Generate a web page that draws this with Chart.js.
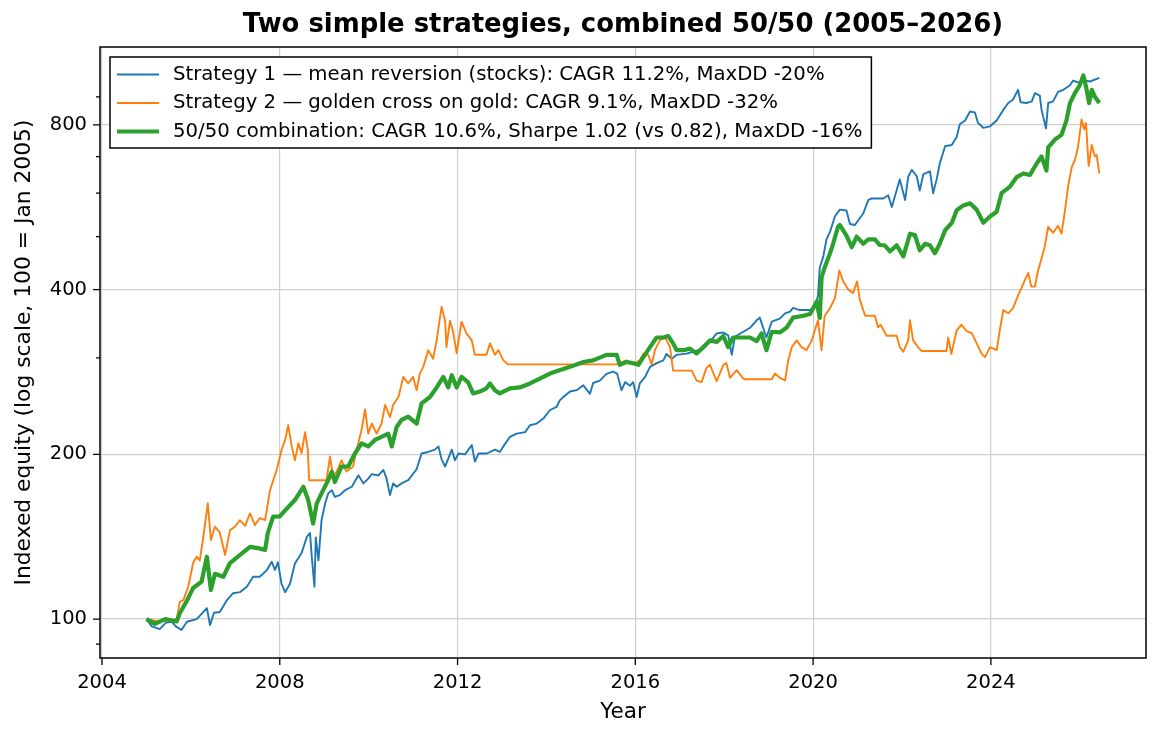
<!DOCTYPE html>
<html>
<head>
<meta charset="utf-8">
<title>Two simple strategies, combined 50/50 (2005–2026)</title>
<script src="https://cdn.jsdelivr.net/npm/chart.js@4.4.1/dist/chart.umd.min.js"></script>
<style>
  html, body { margin: 0; padding: 0; background: #fff; }
  #wrap { width: 1161px; height: 737px; }
</style>
</head>
<body>
<div id="wrap"><canvas id="equity-chart" width="1161" height="737"></canvas></div>
<script>
// ============================================
//  Two strategies + 50/50 blend — equity curves
// ============================================

const TITLE = "Two simple strategies, combined 50/50 (2005–2026)";
const s1Label = "Strategy 1 — mean reversion (stocks): CAGR 11.2%, MaxDD -20%";
const s2Label = "Strategy 2 — golden cross on gold: CAGR 9.1%, MaxDD -32%";
const comboLabel = "50/50 combination: CAGR 10.6%, Sharpe 1.02 (vs 0.82), MaxDD -16%";

const xTicks      = [2004, 2008, 2012, 2016, 2020, 2024];
const yTicks      = [100, 200, 400, 800];
const yMinorTicks = [90, 300, 500, 600, 700, 900];

// Strategy 1 (stocks, mean reversion)
const s1Years = [
  2005.00, 2005.12, 2005.30, 2005.44, 2005.57, 2005.66, 2005.79, 2005.91, 2006.13, 2006.36,
  2006.43, 2006.52, 2006.65, 2006.81, 2006.95, 2007.10, 2007.26, 2007.40, 2007.55, 2007.71,
  2007.82, 2007.89, 2007.96, 2008.04, 2008.12, 2008.23, 2008.34, 2008.49, 2008.61, 2008.68,
  2008.72, 2008.78, 2008.81, 2008.87, 2008.94, 2009.02, 2009.09, 2009.17, 2009.24, 2009.35,
  2009.47, 2009.62, 2009.77, 2009.88, 2009.99, 2010.07, 2010.22, 2010.33, 2010.40, 2010.48,
  2010.55, 2010.63, 2010.74, 2010.89, 2010.97, 2011.08, 2011.19, 2011.34, 2011.49, 2011.57,
  2011.64, 2011.72, 2011.87, 2011.94, 2012.02, 2012.17, 2012.32, 2012.39, 2012.47, 2012.66,
  2012.84, 2012.95, 2013.03, 2013.18, 2013.33, 2013.52, 2013.63, 2013.78, 2013.93, 2014.08,
  2014.23, 2014.30, 2014.38, 2014.53, 2014.68, 2014.83, 2014.98, 2015.05, 2015.20, 2015.35,
  2015.50, 2015.59, 2015.69, 2015.77, 2015.88, 2015.95, 2016.03, 2016.10, 2016.22, 2016.33,
  2016.48, 2016.63, 2016.70, 2016.82, 2016.93, 2017.15, 2017.30, 2017.53, 2017.68, 2017.83,
  2017.98, 2018.09, 2018.17, 2018.24, 2018.43, 2018.58, 2018.73, 2018.80, 2018.88, 2018.95,
  2019.07, 2019.25, 2019.37, 2019.48, 2019.55, 2019.70, 2019.93, 2020.04, 2020.11, 2020.15,
  2020.23, 2020.30, 2020.38, 2020.49, 2020.60, 2020.75, 2020.83, 2020.94, 2021.05, 2021.13,
  2021.24, 2021.32, 2021.58, 2021.69, 2021.77, 2021.88, 2021.95, 2022.07, 2022.14, 2022.22,
  2022.33, 2022.40, 2022.48, 2022.63, 2022.70, 2022.78, 2022.85, 2022.97, 2023.12, 2023.23,
  2023.30, 2023.42, 2023.53, 2023.64, 2023.71, 2023.83, 2023.98, 2024.13, 2024.28, 2024.39,
  2024.50, 2024.61, 2024.67, 2024.80, 2024.92, 2024.99, 2025.10, 2025.14, 2025.24, 2025.29,
  2025.40, 2025.51, 2025.63, 2025.78, 2025.85, 2026.00, 2026.11, 2026.23, 2026.44
];
const s1Values = [
  100, 97, 95.9, 98.5, 98.9, 97, 95.5, 98.9, 100, 104.7,
  97.5, 102.7, 103, 108.3, 111.5, 112, 114.6, 119.5, 119.5, 122.9,
  127.3, 123, 127, 116, 112, 116, 126.4, 132, 141.4, 143.6,
  130, 114.6, 141, 128, 151.6, 162.6, 169.7, 172, 167.3, 168.5,
  172, 174.5, 183.2, 177, 180.6, 184, 183, 187.3, 181, 168.5,
  177, 174.5, 177, 179.4, 183, 188, 200.7, 202, 204, 206.8,
  196, 190, 204, 195, 200.7, 200, 208, 194, 200.7, 200.7,
  204, 202, 206.8, 215.3, 218.2, 219.6, 226, 227.6, 232.5, 241,
  244.3, 251, 254.6, 260.5, 262, 267.4, 258, 270, 272.8, 280.6,
  283.2, 281, 262, 271, 267, 271, 254.6, 269.5, 277, 289,
  293.5, 297, 305, 299, 304, 305.6, 308, 312, 321, 332.7,
  334, 330, 304, 328, 335, 340.6, 351.5, 355.5, 340, 327,
  349.5, 353.9, 362, 364.5, 370.3, 367, 367, 372, 389.6, 439,
  460, 494, 510, 544, 560, 558, 527, 525, 540, 551.6,
  583, 587, 587, 595, 566, 607.6, 636, 583, 643, 662,
  645, 607, 650, 658, 600, 636, 680, 731, 735, 760,
  802, 815, 846, 843, 806, 790, 795, 815, 852, 877,
  890, 927, 880, 877, 883, 914, 905, 852, 788, 877,
  883, 919, 927, 945, 964, 954, 964, 960, 975
];

// Strategy 2 (gold, golden cross) — flat stretches are time out of the market
const s2Years = [
  2005.00, 2005.30, 2005.68, 2005.75, 2005.83, 2005.94, 2006.05, 2006.13, 2006.20, 2006.28,
  2006.38, 2006.45, 2006.54, 2006.65, 2006.77, 2006.88, 2006.99, 2007.10, 2007.22, 2007.33,
  2007.44, 2007.55, 2007.67, 2007.78, 2007.93, 2008.04, 2008.12, 2008.19, 2008.27, 2008.34,
  2008.42, 2008.49, 2008.57, 2008.63, 2008.66, 2009.05, 2009.13, 2009.20, 2009.28, 2009.39,
  2009.50, 2009.65, 2009.73, 2009.84, 2009.92, 2009.99, 2010.07, 2010.18, 2010.29, 2010.37,
  2010.48, 2010.55, 2010.67, 2010.78, 2010.89, 2011.00, 2011.08, 2011.15, 2011.23, 2011.34,
  2011.45, 2011.53, 2011.64, 2011.72, 2011.75, 2011.83, 2011.90, 2011.98, 2012.09, 2012.20,
  2012.32, 2012.39, 2012.65, 2012.73, 2012.84, 2012.92, 2013.03, 2013.14, 2015.58, 2015.80,
  2015.95, 2016.10, 2016.18, 2016.29, 2016.37, 2016.44, 2016.55, 2016.67, 2016.78, 2016.85,
  2017.27, 2017.38, 2017.49, 2017.60, 2017.68, 2017.83, 2017.98, 2018.05, 2018.13, 2018.28,
  2018.43, 2018.47, 2019.07, 2019.14, 2019.25, 2019.37, 2019.44, 2019.52, 2019.63, 2019.74,
  2019.85, 2019.97, 2020.04, 2020.11, 2020.19, 2020.26, 2020.38, 2020.49, 2020.59, 2020.68,
  2020.79, 2020.90, 2020.99, 2021.05, 2021.17, 2021.39, 2021.46, 2021.52, 2021.65, 2021.88,
  2021.95, 2022.03, 2022.14, 2022.18, 2022.25, 2022.36, 2022.44, 2023.00, 2023.04, 2023.11,
  2023.23, 2023.34, 2023.45, 2023.57, 2023.68, 2023.79, 2023.87, 2023.98, 2024.13, 2024.20,
  2024.28, 2024.39, 2024.50, 2024.61, 2024.73, 2024.84, 2024.91, 2024.99, 2025.06, 2025.14,
  2025.21, 2025.29, 2025.40, 2025.51, 2025.59, 2025.67, 2025.74, 2025.82, 2025.89, 2025.96,
  2026.04, 2026.10, 2026.14, 2026.20, 2026.27, 2026.34, 2026.38, 2026.44
];
const s2Values = [
  100, 99, 100, 107.5, 108.3, 114.6, 126.6, 130, 128, 141.4,
  162.8, 139.5, 147.5, 144, 131, 145.4, 147.5, 151.6, 148, 156,
  148.5, 153, 151.6, 172, 187.3, 203.7, 212.5, 226, 206.8, 195,
  209.5, 201, 219.6, 204, 179.4, 179.4, 198, 182, 186, 195,
  186, 190, 204, 221.7, 241.7, 218.2, 227.7, 218.2, 227.7, 246.2,
  234, 246.2, 254.6, 277, 269.5, 277, 262, 280.6, 289, 310,
  299, 323, 372, 351, 314, 351, 335, 306, 349.5, 332.7,
  323, 304, 304, 319, 304, 310, 297, 292, 292, 297,
  292, 297, 305.6, 304, 292, 310, 323, 327, 314, 284.4,
  284.4, 272.8, 271, 287.4, 291.5, 272, 291.5, 293.5, 276, 285,
  275, 274.3, 274.3, 281, 276, 273, 297, 314, 323, 314,
  310, 323, 337, 351.5, 310, 358, 370, 386, 433.5, 413.8,
  400, 394.4, 414, 383.4, 358.3, 358.3, 341.5, 345, 329.5, 329.5,
  314, 308, 323, 351.5, 323, 314, 309, 309, 327, 305,
  337, 345, 336, 333, 319, 305.6, 301, 314, 310, 337,
  367, 362, 370, 390, 410, 429, 405, 405, 433, 456,
  479, 521, 508, 523, 506, 560, 620, 670, 690, 728,
  818, 785, 806, 673, 735, 700, 705, 652
];

// 50/50 combination
const comboYears = [
  2005.00, 2005.19, 2005.42, 2005.68, 2005.75, 2005.91, 2006.05, 2006.24, 2006.36, 2006.45,
  2006.54, 2006.73, 2006.88, 2007.10, 2007.33, 2007.51, 2007.67, 2007.73, 2007.85, 2008.00,
  2008.12, 2008.34, 2008.53, 2008.64, 2008.75, 2008.83, 2008.94, 2009.09, 2009.17, 2009.24,
  2009.39, 2009.54, 2009.69, 2009.84, 2009.99, 2010.14, 2010.29, 2010.44, 2010.52, 2010.63,
  2010.74, 2010.89, 2011.08, 2011.19, 2011.38, 2011.53, 2011.68, 2011.79, 2011.87, 2011.98,
  2012.09, 2012.24, 2012.35, 2012.50, 2012.65, 2012.73, 2012.84, 2012.95, 2013.18, 2013.40,
  2013.63, 2013.85, 2014.08, 2014.26, 2014.53, 2014.83, 2015.05, 2015.35, 2015.58, 2015.65,
  2015.80, 2015.95, 2016.07, 2016.18, 2016.33, 2016.48, 2016.63, 2016.74, 2016.85, 2016.93,
  2017.08, 2017.23, 2017.38, 2017.53, 2017.68, 2017.83, 2017.98, 2018.09, 2018.20, 2018.43,
  2018.58, 2018.73, 2018.84, 2018.95, 2019.07, 2019.25, 2019.40, 2019.55, 2019.78, 2019.93,
  2020.08, 2020.15, 2020.19, 2020.26, 2020.38, 2020.45, 2020.56, 2020.60, 2020.75, 2020.87,
  2020.98, 2021.13, 2021.24, 2021.39, 2021.50, 2021.61, 2021.73, 2021.88, 2022.03, 2022.18,
  2022.29, 2022.40, 2022.52, 2022.63, 2022.74, 2022.85, 2022.97, 2023.12, 2023.23, 2023.38,
  2023.53, 2023.68, 2023.83, 2023.98, 2024.13, 2024.24, 2024.43, 2024.58, 2024.73, 2024.88,
  2025.03, 2025.14, 2025.25, 2025.29, 2025.44, 2025.59, 2025.70, 2025.78, 2025.89, 2026.00,
  2026.08, 2026.14, 2026.21, 2026.27, 2026.34, 2026.44
];
const comboValues = [
  100, 98, 100, 99, 102.5, 108, 114, 117, 130, 113,
  121, 119.5, 126.6, 130.9, 135.5, 134.8, 133.8, 143.6, 153.9, 154,
  158, 165, 174.5, 165, 149.5, 162.6, 169.7, 179.4, 186, 178,
  190, 190, 200.7, 209.5, 206.8, 212.5, 215.3, 218.2, 206.8, 224.4,
  231.2, 234.3, 227.6, 247.8, 254.6, 265, 277, 265, 279, 265,
  277, 270.8, 258.4, 260.5, 264, 269.5, 262, 258.4, 264, 265,
  269.5, 275, 281, 284.4, 289, 295, 297, 304, 304, 291.5,
  295, 293.5, 291.5, 301, 314, 327, 327, 329, 319, 310,
  310, 312, 305.6, 314, 323, 321, 329, 314, 327, 327,
  327, 322, 332.7, 310, 335, 334, 340.6, 355.5, 358.3, 361,
  380, 355, 421, 439, 466, 485, 521, 525, 502, 478,
  500, 485, 494, 494, 482.5, 482, 469.6, 482, 460, 506,
  503, 472, 485, 482, 466, 485, 513.5, 529.5, 558.6, 570,
  575, 560, 530, 544, 555, 600, 617, 642, 652, 648,
  680, 700, 660, 728, 752, 767, 815, 877, 914, 945,
  985, 940, 877, 927, 900, 877
];

const FONT   = "'DejaVu Sans', sans-serif";
const COLORS = { s1: "#1f77b4", s2: "#ff7f0e", combo: "#2ca02c" };

const toPoints = (xs, ys) => xs.map((x, i) => ({ x, y: ys[i] }));

// ── axes box, tick marks, title, legend (matplotlib look) ──
const framePlugin = {
  id: "frame",
  afterDraw(chart) {
    const { ctx, chartArea: a, scales: { x, y } } = chart;
    ctx.save();
    ctx.strokeStyle = "#000";

    // tick marks
    ctx.lineWidth = 1.3;
    ctx.beginPath();
    xTicks.forEach(v => {
      const px = x.getPixelForValue(v);
      ctx.moveTo(px, a.bottom); ctx.lineTo(px, a.bottom + 7);
    });
    yTicks.forEach(v => {
      const py = y.getPixelForValue(v);
      ctx.moveTo(a.left - 7, py); ctx.lineTo(a.left, py);
    });
    yMinorTicks.forEach(v => {
      const py = y.getPixelForValue(v);
      ctx.moveTo(a.left - 4, py); ctx.lineTo(a.left, py);
    });
    ctx.stroke();

    // spines
    ctx.lineWidth = 1.5;
    ctx.strokeRect(a.left, a.top, a.right - a.left, a.bottom - a.top);

    // title
    ctx.fillStyle = "#000";
    ctx.font = `bold 25.9px ${FONT}`;
    ctx.textAlign = "center";
    ctx.textBaseline = "middle";
    ctx.fillText(TITLE, (a.left + a.right) / 2, 25);

    // legend
    ctx.font = `19.7px ${FONT}`;
    const items = chart.data.datasets;
    const textW = Math.max(...items.map(d => ctx.measureText(d.label).width));
    const bx = a.left + 10, by = a.top + 10;
    const bw = 63 + textW + 9, bh = 91;
    ctx.fillStyle = "#fff";
    ctx.fillRect(bx, by, bw, bh);
    ctx.lineWidth = 1.5;
    ctx.strokeStyle = "#000";
    ctx.strokeRect(bx, by, bw, bh);
    ctx.textAlign = "left";
    items.forEach((d, i) => {
      const ry = by + 17.5 + i * 28.5;
      ctx.strokeStyle = d.borderColor;
      ctx.lineWidth = d.legendWidth;
      ctx.beginPath(); ctx.moveTo(bx + 7, ry); ctx.lineTo(bx + 49, ry); ctx.stroke();
      ctx.fillStyle = "#000";
      ctx.fillText(d.label, bx + 63, ry);
    });
    ctx.restore();
  }
};

const ctx = document.getElementById("equity-chart").getContext("2d");

new Chart(ctx, {
  type: "line",
  data: {
    datasets: [
      { label: s1Label,    data: toPoints(s1Years, s1Values),       borderColor: COLORS.s1,    borderWidth: 1.9, legendWidth: 1.9, order: 3 },
      { label: s2Label,    data: toPoints(s2Years, s2Values),       borderColor: COLORS.s2,    borderWidth: 1.9, legendWidth: 1.9, order: 2 },
      { label: comboLabel, data: toPoints(comboYears, comboValues), borderColor: COLORS.combo, borderWidth: 4.2, legendWidth: 3.8, order: 1 },
    ]
  },
  options: {
    responsive: false,
    animation: false,
    devicePixelRatio: 1,
    events: [],
    layout: { padding: { top: 47, right: 15, bottom: 0, left: 0 } },
    elements: {
      point: { radius: 0 },
      line: { tension: 0, fill: false, borderJoinStyle: "round" }
    },
    plugins: {
      legend:  { display: false },
      title:   { display: false },
      tooltip: { enabled: false }
    },
    scales: {
      x: {
        type: "linear",
        min: 2003.955,
        max: 2027.49,
        afterBuildTicks: s => { s.ticks = xTicks.map(v => ({ value: v })); },
        afterFit: s => { s.height = 79; },
        ticks: {
          autoSkip: false, maxRotation: 0, padding: 13,
          color: "#000", font: { family: FONT, size: 19.5 },
          callback: v => String(v)
        },
        grid: { color: "#cfcfcf", lineWidth: 1.2, drawTicks: false },
        border: { display: false },
        title: {
          display: true, text: "Year", color: "#000",
          font: { family: FONT, size: 21.5 },
          padding: { top: 0, bottom: 12 }
        }
      },
      y: {
        type: "logarithmic",
        min: 84.9,
        max: 1110,
        afterBuildTicks: s => {
          s.ticks = [...yMinorTicks, ...yTicks].sort((p, q) => p - q).map(v => ({ value: v }));
        },
        afterFit: s => { s.width = 100; },
        ticks: {
          autoSkip: false, padding: 13,
          color: "#000", font: { family: FONT, size: 19.5 },
          callback: v => (yTicks.includes(v) ? String(v) : "")
        },
        grid: {
          color: c => (c.tick && yTicks.includes(c.tick.value) ? "#cfcfcf" : "rgba(0,0,0,0)"),
          lineWidth: 1.2, drawTicks: false
        },
        border: { display: false },
        title: {
          display: true, text: "Indexed equity (log scale, 100 = Jan 2005)", color: "#000",
          font: { family: FONT, size: 21.8 },
          padding: { top: 11, bottom: 0 }
        }
      }
    }
  },
  plugins: [framePlugin]
});
</script>
</body>
</html>
